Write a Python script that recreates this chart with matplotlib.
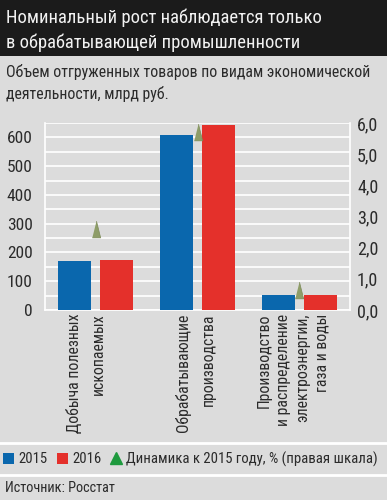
import matplotlib
matplotlib.use("Agg")
import matplotlib.pyplot as plt
from matplotlib.patches import Rectangle, Patch
from matplotlib.lines import Line2D
import numpy as np

categories = ["Добыча полезных\nископаемых",
              "Обрабатывающие\nпроизводства",
              "Производство\nи распределение\nэлектроэнергии,\nгаза и воды"]
values_2015 = [171, 610, 52]
values_2016 = [174, 642, 52]
dynamics = [2.6, 5.7, 0.65]
left_ticks = [0, 100, 200, 300, 400, 500, 600]
right_ticks = [0, 1, 2, 3, 4, 5, 6]

FONT = ["Roboto Condensed", "DejaVu Sans"]
plt.rcParams["font.family"] = FONT

BG = "#dcdcdc"
BLUE = "#0a67ad"
RED = "#e4302b"
TXT = "#2b2b2b"

fig = plt.figure(figsize=(3.87, 5.0), dpi=100, facecolor=BG)

# title band
fig.patches.append(Rectangle((0, 1 - 56 / 500), 1, 56 / 500, transform=fig.transFigure,
                             facecolor="#1b1b1b", edgecolor="none", zorder=0))
fig.text(6 / 387, 1 - 18 / 500, "Номинальный рост наблюдается только",
         color="#f2f2f2", fontsize=13.4, va="center", ha="left")
fig.text(6 / 387, 1 - 43 / 500, "в обрабатывающей промышленности",
         color="#f2f2f2", fontsize=13.4, va="center", ha="left")
fig.text(6 / 387, 1 - 72 / 500, "Объем отгруженных товаров по видам экономической",
         color=TXT, fontsize=11.4, va="center", ha="left")
fig.text(6 / 387, 1 - 94 / 500, "деятельности, млрд руб.",
         color=TXT, fontsize=11.4, va="center", ha="left")

ax = fig.add_axes([45 / 387, 1 - 310 / 500, 305 / 387, 187 / 500])
ax.set_facecolor(BG)
x = np.arange(len(categories))
w = 0.325
off = 0.207
ax.bar(x - off, values_2015, w, color=BLUE, zorder=3)
ax.bar(x + off, values_2016, w, color=RED, zorder=3)
ax.set_xlim(-0.5, 2.5)
ax.set_ylim(0, 650)
ax.set_yticks(left_ticks)
ax.set_yticks(np.arange(0, 651, 50), minor=True)
ax.yaxis.grid(True, which="both", color="white", lw=1.2, zorder=0)
ax.set_axisbelow(True)
ax.tick_params(axis="y", which="both", length=0, pad=9, labelsize=12.5, labelcolor=TXT)
ax.set_xticks([])
for s in ax.spines.values():
    s.set_color("white")
    s.set_linewidth(1.2)
ax.spines["top"].set_visible(False)

ax2 = ax.twinx()
ax2.set_ylim(0, 6.0)
ax2.set_yticks(right_ticks)
ax2.set_yticklabels([f"{v:.1f}".replace(".", ",") for v in right_ticks])
ax2.tick_params(axis="y", length=0, pad=5, labelsize=13, labelcolor=TXT)
for s in ax2.spines.values():
    s.set_visible(False)
tri = [(-0.25, -0.5), (0.25, -0.5), (0, 0.5)]
ax2.plot(x, dynamics, linestyle="none", marker=tri, markersize=12,
         color="#8e9d68", markeredgecolor="#7c8a58", markeredgewidth=0.5, zorder=5)

label_dx = [-0.1, -0.02, -0.06]
label_ls = [1.75, 1.75, 1.35]
for xi, lab, dx, ls in zip(x, categories, label_dx, label_ls):
    ax.text(xi + dx, -12, lab, rotation=90, ha="center", va="top",
            multialignment="right", fontsize=11.3, color=TXT, linespacing=ls,
            transform=ax.transData, clip_on=False)

# separators
fig.add_artist(Line2D([0, 1], [1 - 443 / 500] * 2, color="white", lw=2, transform=fig.transFigure))
fig.add_artist(Line2D([0, 1], [1 - 475 / 500] * 2, color="white", lw=2, transform=fig.transFigure))

handles = [Patch(facecolor=BLUE, edgecolor="none", label="2015"),
           Patch(facecolor=RED, edgecolor="none", label="2016"),
           Line2D([], [], linestyle="none", marker="^", markersize=8, color="#1e9a3e",
                  label="Динамика к 2015 году, % (правая шкала)")]
fig.legend(handles=handles, loc="center left", bbox_to_anchor=(0.005, 1 - 459 / 500),
           ncol=3, frameon=False, fontsize=10.6, handlelength=0.75, handleheight=0.75,
           handletextpad=0.3, columnspacing=0.6, borderaxespad=0, borderpad=0.1,
           labelcolor=TXT)

fig.text(5 / 387, 1 - 488 / 500, "Источник: Росстат", color=TXT, fontsize=10.3,
         va="center", ha="left")

fig.savefig("out.png", dpi=100, facecolor=BG)
